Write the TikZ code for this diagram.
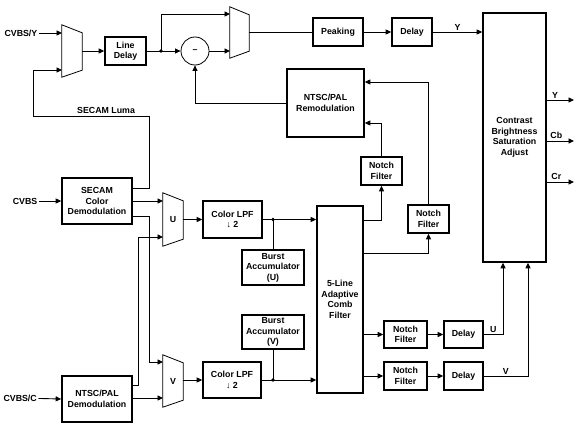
\documentclass[tikz,border=0pt]{standalone}
\usepackage{fontspec}
\setmainfont{Liberation Sans}
\usetikzlibrary{arrows.meta,calc}
\newcommand{\dgmfont}{\fontsize{8.8}{10.5}\selectfont\bfseries}
\begin{document}
\begin{tikzpicture}[x=1pt,y=-1pt,
  box/.style={draw,line width=1.6pt,inner sep=0pt,align=center,font=\dgmfont},
  muxn/.style={inner sep=0pt,font=\dgmfont},
  muxline/.style={line width=0.8pt},
  lbl/.style={font=\dgmfont,inner sep=1.5pt},
  ln/.style={line width=0.9pt},
  arr/.style={line width=0.9pt,-{Triangle[length=5.5pt,width=5pt]}},
  dot/.style={fill}
]
\useasboundingbox (0,0) rectangle (583,425);
\fill[white] (0,0) rectangle (583,425);

% ---- boxes ----
\node[box,minimum width=41pt,minimum height=28pt] (linedelay) at (125.5,51) {Line\\Delay};
\node[box,minimum width=50pt,minimum height=28pt] (peaking) at (338,32) {Peaking};
\node[box,minimum width=40pt,minimum height=28pt] (delay1) at (412,32) {Delay};
\node[box,minimum width=63pt,minimum height=249pt] (csa) at (514.5,137.5) {Contrast\\Brightness\\Saturation\\Adjust};
\node[box,minimum width=77pt,minimum height=68pt] (remod) at (325.5,103) {NTSC/PAL\\Remodulation};
\node[box,minimum width=41pt,minimum height=28pt] (notch1) at (381.5,171) {Notch\\Filter};
\node[box,minimum width=41pt,minimum height=28pt] (notch2) at (428.5,219) {Notch\\Filter};
\node[box,minimum width=46pt,minimum height=187pt] (comb) at (340,299.5) {5-Line\\Adaptive\\Comb\\Filter};
\node[box,minimum width=43pt,minimum height=27pt] (notch3) at (405.5,334.5) {Notch\\Filter};
\node[box,minimum width=39pt,minimum height=27pt] (delayU) at (463.5,334.5) {Delay};
\node[box,minimum width=43pt,minimum height=28pt] (notch4) at (405.5,376) {Notch\\Filter};
\node[box,minimum width=39pt,minimum height=28pt] (delayV) at (463.5,376) {Delay};
\node[box,minimum width=70pt,minimum height=46pt] (secam) at (97,201) {SECAM\\Color\\Demodulation};
\node[box,minimum width=70pt,minimum height=46pt] (ntsc) at (97,399) {NTSC/PAL\\Demodulation};
\node[box,minimum width=59pt,minimum height=37pt] (lpfU) at (232.5,219.5) {Color LPF\\↓ 2};
\node[box,minimum width=58pt,minimum height=36pt] (lpfV) at (232,380) {Color LPF\\↓ 2};
\node[box,minimum width=62pt,minimum height=35pt] (burstU) at (273,267.5) {Burst\\Accumulator\\(U)};
\node[box,minimum width=62pt,minimum height=34pt] (burstV) at (273,332) {Burst\\Accumulator\\(V)};
\node[draw,circle,line width=0.8pt,minimum size=28pt,inner sep=0pt,font=\dgmfont] (circ) at (195,51) {–};

% ---- multiplexers ----
\node[muxn,minimum width=20pt,minimum height=52pt] (mux1) at (72,51) {};
\node[muxn,minimum width=19pt,minimum height=51pt] (mux2) at (239.5,32.5) {};
\node[muxn,minimum width=20pt,minimum height=53pt] (muxU) at (173,219.5) {U};
\node[muxn,minimum width=20pt,minimum height=52pt] (muxV) at (173,381) {V};
\foreach \m in {mux1,mux2,muxU,muxV}{
  \draw[muxline] (\m.north west) -- ([yshift=-8pt]\m.north east) -- ([yshift=7pt]\m.south east) -- (\m.south west) -- cycle;
}
\coordinate (m1a) at (62,33);
\coordinate (m1b) at (62,70);
\coordinate (m1o) at (82,51);
\coordinate (m2a) at (230,14);
\coordinate (m2b) at (230,51);
\coordinate (m2o) at (249,32);
\coordinate (mUa) at (163,201);
\coordinate (mUb) at (163,237);
\coordinate (mUo) at (183,219.5);
\coordinate (mVa) at (163,362);
\coordinate (mVb) at (163,398);
\coordinate (mVo) at (183,380);

% ---- input labels ----
\node[lbl,anchor=east] (inY) at (39,33) {CVBS/Y};
\node[lbl,anchor=east] (inCV) at (39,201) {CVBS};
\node[lbl,anchor=east] (inC) at (38.5,398) {CVBS/C};

% ---- helper coordinates ----
\coordinate (j1) at (161,51);
\coordinate (j2) at (273,219.5);
\coordinate (j3) at (273,380);
\coordinate (lumaR) at (149,116);
\coordinate (lumaL) at (33,116);
\coordinate (sv) at (149,216);
\coordinate (nu) at (138,385);
\coordinate (oY) at (574,100);
\coordinate (oCb) at (574,141);
\coordinate (oCr) at (574,182);

% ---- top luma path ----
\draw[arr] (inY) -- (m1a);
\draw[arr] (m1o) -- (linedelay.west);
\draw[ln] (linedelay.east) -- (j1);
\fill (j1) circle (1.8pt);
\draw[arr] (j1) -- (circ.west);
\draw[arr] (j1) |- (m2a);
\draw[arr] (circ.east) -- (m2b);
\draw[ln] (m2o) -- (peaking.west);
\draw[arr] (peaking) -- (delay1);
\draw[arr] (delay1.east) -- (csa.west |- delay1.east) node[lbl,midway,above] {Y};
\draw[arr] (remod.west) -| (circ.south);

% ---- remodulation feedback ----
\draw[arr] (notch1.north) |- (remod.east |- 0,123);
\draw[arr] (notch2.north) |- (remod.east |- 0,82);
\draw[arr] (comb.east |- 0,220) -| (notch1.south);
\draw[arr] (comb.east |- 0,253) -| (notch2.south);

% ---- chroma outputs ----
\draw[arr] (comb.east |- notch3.west) -- (notch3.west);
\draw[arr] (notch3) -- (delayU);
\draw[arr] (delayU.east) -| (csa.south -| 503,0) node[lbl,pos=0.25,above] {U};
\draw[arr] (comb.east |- notch4.west) -- (notch4.west);
\draw[arr] (notch4) -- (delayV);
\draw[arr] (delayV.east) -| (csa.south -| 528,0) node[lbl,pos=0.25,above] {V};

\draw[arr] (csa.east |- oY) -- (oY) node[lbl,pos=0.3,above] {Y};
\draw[arr] (csa.east |- oCb) -- (oCb) node[lbl,pos=0.35,above] {Cb};
\draw[arr] (csa.east |- oCr) -- (oCr) node[lbl,pos=0.35,above] {Cr};

% ---- left side ----
\draw[arr] (inCV) -- (secam.west);
\draw[arr] (secam.east |- 0,188) -| (lumaR) -- (lumaL) node[lbl,pos=0.37,above] {SECAM Luma} |- (m1b);
\draw[arr] (secam.east |- mUa) -- (mUa);
\draw[arr] (secam.east |- sv) -- (sv) |- (mVa);
\draw[arr] (ntsc.east |- nu) -- (nu) |- (mUb);
\draw[arr] (ntsc.east |- mVb) -- (mVb);
\draw[arr] (inC) -- (ntsc.west);

% ---- color LPF paths ----
\draw[arr] (mUo) -- (lpfU.west |- mUo);
\draw[arr] (lpfU.east) -- (comb.west |- lpfU.east);
\fill (j2) circle (1.8pt);
\draw[ln] (j2) -- (burstU.north);
\draw[arr] (mVo) -- (lpfV.west |- mVo);
\draw[arr] (lpfV.east) -- (comb.west |- lpfV.east);
\fill (j3) circle (1.8pt);
\draw[ln] (burstV.south) -- (j3);
\end{tikzpicture}
\end{document}
